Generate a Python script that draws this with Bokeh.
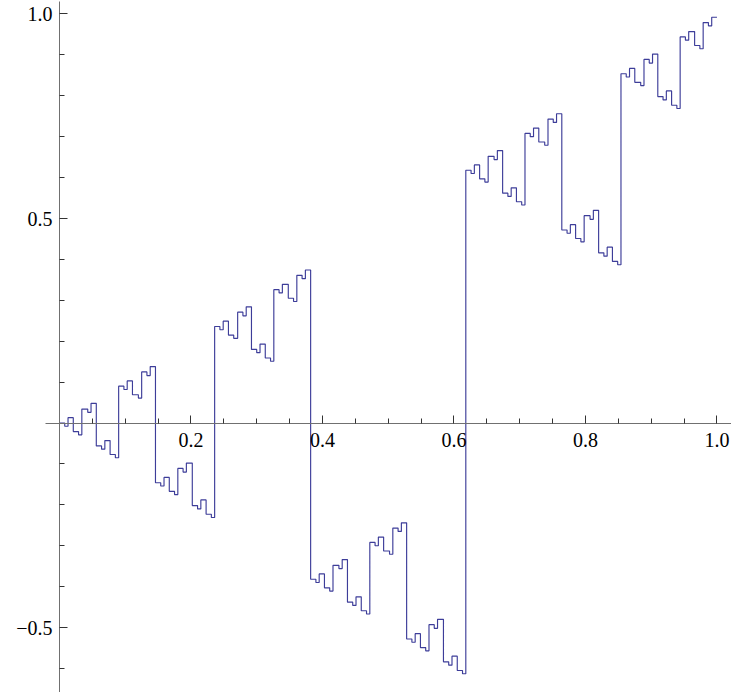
from bokeh.plotting import figure
from bokeh.models import Range1d, FixedTicker
from bokeh.embed import file_html
from bokeh.resources import INLINE

# ---- step function values (left start of each step, level) ----
left_x = [0.000, 0.008, 0.013, 0.021, 0.029, 0.034, 0.043, 0.048, 0.056, 0.064, 0.069,
          0.077, 0.085, 0.090, 0.098, 0.103, 0.111, 0.120, 0.125, 0.133, 0.138,
          0.146, 0.154, 0.159, 0.167, 0.175, 0.180, 0.188, 0.193, 0.202, 0.210, 0.215,
          0.223, 0.231,
          0.236, 0.244, 0.249, 0.257, 0.265, 0.271, 0.279, 0.284, 0.292, 0.300, 0.305,
          0.313, 0.321, 0.326, 0.334, 0.339, 0.348, 0.356, 0.361, 0.369, 0.374]
left_y = [0.000, -0.008, 0.013, -0.021, -0.029, 0.034, 0.026, 0.048, -0.056, -0.064, -0.043,
          -0.077, -0.085, 0.090, 0.082, 0.103, 0.069, 0.061, 0.125, 0.116, 0.138,
          -0.146, -0.154, -0.133, -0.167, -0.175, -0.111, -0.120, -0.098, -0.202, -0.210, -0.188,
          -0.223, -0.231,
          0.236, 0.228, 0.249, 0.215, 0.207, 0.271, 0.262, 0.284, 0.180, 0.172, 0.193,
          0.159, 0.151, 0.326, 0.318, 0.339, 0.305, 0.297, 0.361, 0.353, 0.374]

mid_x = [0.382, 0.390, 0.395, 0.403, 0.411, 0.416, 0.425, 0.430, 0.438, 0.446, 0.451,
         0.459, 0.467, 0.472, 0.480, 0.485, 0.493, 0.502, 0.507, 0.515, 0.520,
         0.528, 0.536, 0.541, 0.549, 0.557, 0.562, 0.570, 0.575, 0.584, 0.592, 0.597,
         0.605, 0.613]
mid_y = [-0.382, -0.390, -0.369, -0.403, -0.411, -0.348, -0.356, -0.334, -0.438, -0.446, -0.425,
         -0.459, -0.467, -0.292, -0.300, -0.279, -0.313, -0.321, -0.257, -0.265, -0.244,
         -0.528, -0.536, -0.515, -0.549, -0.557, -0.493, -0.502, -0.480, -0.584, -0.592, -0.570,
         -0.605, -0.613]

right_x = [0.618, 0.626, 0.631, 0.639, 0.647, 0.652, 0.661, 0.666, 0.674, 0.682, 0.687,
           0.695, 0.703, 0.708, 0.716, 0.721, 0.729, 0.738, 0.743, 0.751, 0.756,
           0.764, 0.772, 0.777, 0.785, 0.793, 0.798, 0.807, 0.812, 0.820, 0.828, 0.833,
           0.841, 0.849,
           0.854, 0.862, 0.867, 0.875, 0.884, 0.889, 0.897, 0.902, 0.910, 0.918, 0.923,
           0.931, 0.939, 0.944, 0.952, 0.957, 0.966, 0.974, 0.979, 0.987, 0.992]
right_y = [0.618, 0.610, 0.631, 0.597, 0.589, 0.652, 0.644, 0.666, 0.562, 0.554, 0.575,
           0.541, 0.533, 0.708, 0.700, 0.721, 0.687, 0.679, 0.743, 0.735, 0.756,
           0.472, 0.464, 0.485, 0.451, 0.443, 0.507, 0.498, 0.520, 0.416, 0.408, 0.430,
           0.395, 0.387,
           0.854, 0.846, 0.867, 0.833, 0.825, 0.889, 0.880, 0.902, 0.798, 0.790, 0.812,
           0.777, 0.769, 0.944, 0.936, 0.957, 0.923, 0.915, 0.979, 0.971, 0.992]

x_end = 1.0

x_major = [0.2, 0.4, 0.6, 0.8, 1.0]
x_minor = [0.05, 0.1, 0.15, 0.25, 0.3, 0.35, 0.45, 0.5, 0.55, 0.65, 0.7, 0.75, 0.85, 0.9, 0.95]
x_tick_labels = ["0.2", "0.4", "0.6", "0.8", "1.0"]
y_major = [-0.5, 0.5, 1.0]
y_minor = [-0.6, -0.4, -0.3, -0.2, -0.1, 0.1, 0.2, 0.3, 0.4, 0.6, 0.7, 0.8, 0.9]
y_tick_labels = ["\u22120.5", "0.5", "1.0"]

xs = left_x + mid_x + right_x + [x_end]
ys = left_y + mid_y + right_y
ys = ys + [ys[-1]]

p = figure(width=731, height=692, output_backend="svg", toolbar_location=None,
           x_range=Range1d(-0.0897, 1.0221), y_range=Range1d(-0.6589, 1.0330),
           min_border_left=0, min_border_right=0, min_border_top=0, min_border_bottom=0)
p.outline_line_color = None
p.xgrid.visible = False
p.ygrid.visible = False
p.background_fill_color = "white"
p.border_fill_color = "white"

p.step(xs, ys, mode="after", line_color="#3d3d99", line_width=1.15)

p.xaxis.fixed_location = 0
p.yaxis.fixed_location = 0
p.xaxis.bounds = (-0.021, 1.03)
p.yaxis.bounds = (-0.67, 1.03)
p.xaxis.ticker = FixedTicker(ticks=x_major, minor_ticks=x_minor)
p.yaxis.ticker = FixedTicker(ticks=y_major, minor_ticks=y_minor)
p.xaxis.major_label_overrides = dict(zip(x_major, x_tick_labels))
p.yaxis.major_label_overrides = dict(zip(y_major, y_tick_labels))

for ax in (p.xaxis[0], p.yaxis[0]):
    ax.axis_line_color = "#707070"
    ax.axis_line_width = 1
    ax.major_tick_line_color = "#333333"
    ax.minor_tick_line_color = "#333333"
    ax.major_tick_in = 8
    ax.major_tick_out = 0
    ax.minor_tick_in = 5
    ax.minor_tick_out = 0
    ax.major_label_text_font = "Liberation Serif"
    ax.major_label_text_font_size = "20px"
    ax.major_label_text_color = "black"

p.xaxis.major_label_standoff = 10
p.yaxis.major_label_standoff = 7

open("out.html", "w").write(file_html(p, INLINE))
